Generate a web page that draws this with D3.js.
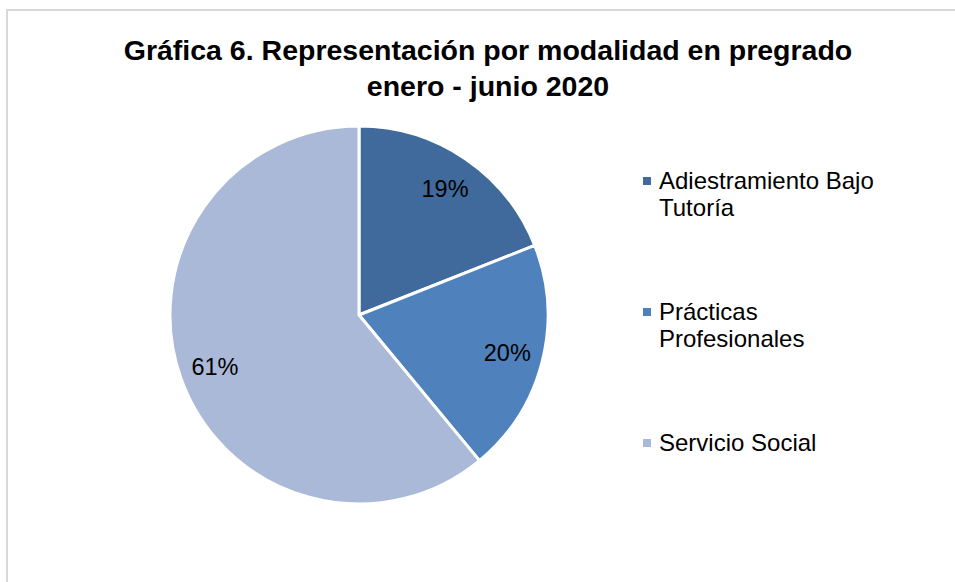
<!DOCTYPE html>
<html>
<head>
<meta charset="utf-8">
<script src="https://cdn.jsdelivr.net/npm/d3@7"></script>
<style>
  body { margin: 0; background: #fff; }
  svg { display: block; }
</style>
</head>
<body>
<div id="chart"></div>
<script>
// datos de la grafica
var categorias = ["Adiestramiento Bajo Tutoría", "Prácticas Profesionales", "Servicio Social"];
var valores = [19, 20, 61];
var etiquetasLeyenda = [["Adiestramiento Bajo", "Tutoría"], ["Prácticas", "Profesionales"], ["Servicio Social"]];
var colores = ["#3f6a9b", "#4f81bd", "#aab9d7"];

function init() {
  var w = 955;
  var h = 582;
  var cx = 359, cy = 315, r = 189;

  var svg = d3.select("#chart")
    .append("svg")
    .attr("width", w)
    .attr("height", h);

  // marco del area de la grafica
  svg.append("rect")
    .attr("x", 7)
    .attr("y", 10)
    .attr("width", 960)
    .attr("height", 600)
    .attr("fill", "none")
    .attr("stroke", "#d9d9d9")
    .attr("stroke-width", 2);

  // titulo
  var titulo = svg.append("text")
    .attr("text-anchor", "middle")
    .attr("font-family", "'Liberation Sans', Arial, sans-serif")
    .attr("font-weight", "bold")
    .attr("font-size", "28.5px")
    .attr("fill", "#000");
  titulo.append("tspan").attr("x", 488).attr("y", 60).text("Gráfica 6. Representación por modalidad en pregrado");
  titulo.append("tspan").attr("x", 488).attr("y", 96).text("enero - junio 2020");

  var color = d3.scaleOrdinal().domain(categorias).range(colores);

  var pie = d3.pie().sort(null).value(function(d) { return d; });
  var arcs = pie(valores);
  var arc = d3.arc().innerRadius(0).outerRadius(r);
  var arcEtiqueta = d3.arc().innerRadius(r * 0.81).outerRadius(r * 0.81);

  var g = svg.append("g").attr("transform", "translate(" + cx + "," + cy + ")");

  g.selectAll("path")
    .data(arcs)
    .enter()
    .append("path")
    .attr("d", arc)
    .attr("fill", function(d, i) { return color(categorias[i]); })
    .attr("stroke", "#fff")
    .attr("stroke-width", 3)
    .attr("stroke-linejoin", "round");

  // porcentajes
  var total = d3.sum(valores);
  g.selectAll("text")
    .data(arcs)
    .enter()
    .append("text")
    .attr("transform", function(d) {
      var c = arcEtiqueta.centroid(d);
      return "translate(" + c[0] + "," + c[1] + ")";
    })
    .attr("text-anchor", "middle")
    .attr("dy", "0.35em")
    .attr("font-family", "'Liberation Sans', Arial, sans-serif")
    .attr("font-size", "23.5px")
    .attr("fill", "#000")
    .text(function(d) { return Math.round(d.data / total * 100) + "%"; });

  // leyenda
  var posLeyenda = [181, 312, 443];
  var leyenda = svg.selectAll(".leyenda")
    .data(categorias)
    .enter()
    .append("g")
    .attr("class", "leyenda")
    .attr("transform", function(d, i) { return "translate(643," + posLeyenda[i] + ")"; });

  leyenda.append("rect")
    .attr("x", 0)
    .attr("y", -4)
    .attr("width", 8)
    .attr("height", 8)
    .attr("fill", function(d) { return color(d); });

  leyenda.append("text")
    .attr("font-family", "'Liberation Sans', Arial, sans-serif")
    .attr("font-size", "24px")
    .attr("fill", "#000")
    .each(function(d, i) {
      var t = d3.select(this);
      etiquetasLeyenda[i].forEach(function(linea, j) {
        t.append("tspan").attr("x", 16).attr("y", 8 + j * 27).text(linea);
      });
    });
}
window.onload = init;
</script>
</body>
</html>
